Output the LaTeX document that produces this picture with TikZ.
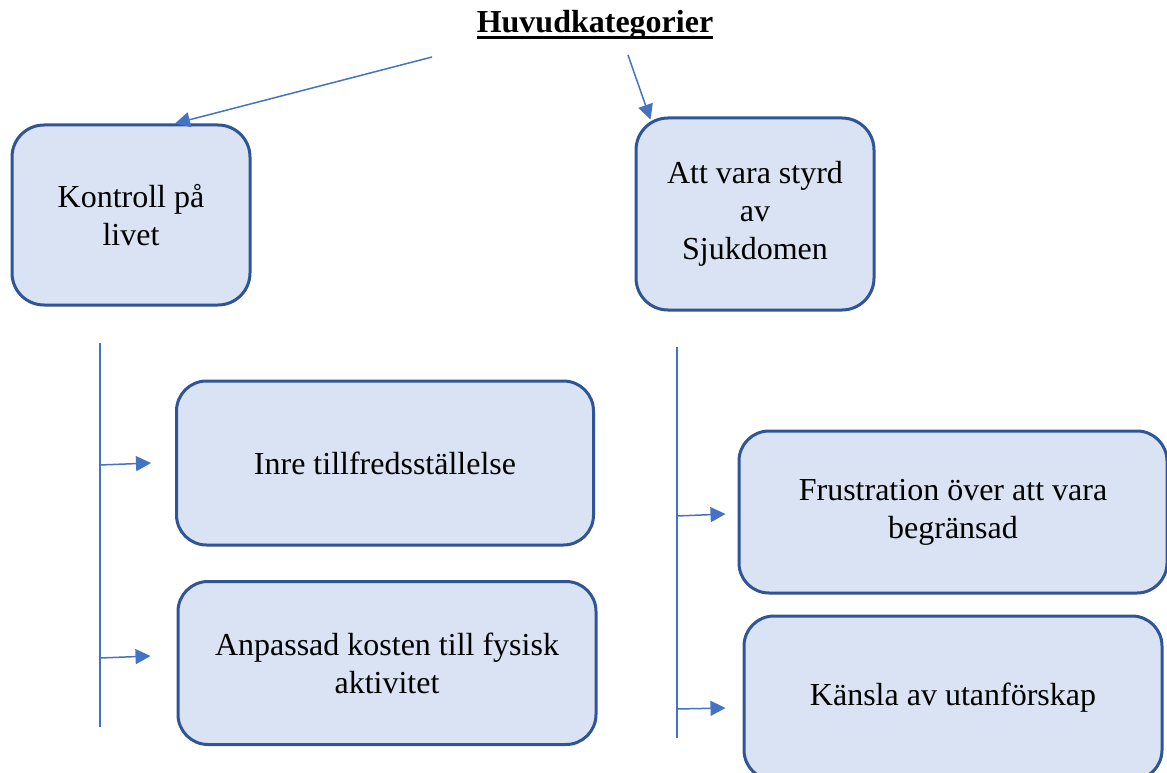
\documentclass[tikz,border=0pt]{standalone}
\usepackage{fontspec}
\setmainfont{Liberation Serif}
\usetikzlibrary{arrows.meta}
\definecolor{boxfill}{HTML}{DAE3F3}
\definecolor{boxline}{HTML}{2F5597}
\definecolor{arrline}{HTML}{4472C4}
\newcommand{\thickul}[1]{\setbox0\hbox{#1}\rlap{\rule[-6.5pt]{\wd0}{3pt}}\box0}
\begin{document}
\begin{tikzpicture}[x=1pt,y=-1pt,
        cat/.style={draw=boxline,fill=boxfill,line width=3pt,rounded corners=32pt,
            align=center,inner sep=0pt,font=\fontsize{32}{38}\selectfont},
        arr/.style={draw=arrline,line width=1.5pt,-{Triangle[length=15pt,width=15pt]}},
        vline/.style={draw=arrline,line width=1.5pt}]
\useasboundingbox (0,0) rectangle (1167,773);
\clip (0,0) rectangle (1167,773);

\node[anchor=base,font=\fontsize{32}{38}\selectfont\bfseries] (title) at (595,33) {\thickul{Huvudkategorier}};

\node[cat,minimum width=238pt,minimum height=180pt] (kontroll) at (131,215) {Kontroll på\\livet};
\node[cat,minimum width=238pt,minimum height=192pt] (styrd) at (755,214) {Att vara styrd\\av\\Sjukdomen};

\node[cat,minimum width=417pt,minimum height=164pt,rounded corners=30pt] (inre) at (385,463) {Inre tillfredsställelse};
\node[cat,minimum width=418pt,minimum height=163pt,rounded corners=30pt] (anpassad) at (387,663) {Anpassad kosten till fysisk\\aktivitet};
\node[cat,minimum width=428pt,minimum height=162pt,rounded corners=30pt] (frustration) at (953,512) {Frustration över att vara\\begränsad};
\node[cat,minimum width=418pt,minimum height=164pt,rounded corners=30pt] (kansla) at (953,698) {Känsla av utanförskap};

% from the heading
\coordinate (tleft) at (432,57);
\coordinate (tright) at (628,55);
\draw[arr] (tleft) -- ([xshift=44pt]kontroll.north);
\draw[arr] (tright) -- ([shift={(16,3)}]styrd.north west);

% left branch
\coordinate (ltop) at (100,343);
\coordinate (lbot) at (100,727);
\draw[vline] (ltop) -- (lbot);
\coordinate (la) at (100,465);
\coordinate (lb) at (100,658);
\draw[arr] (la) -- ([xshift=-24pt]inre.west);
\draw[arr] (lb) -- ([shift={(-26,-7)}]anpassad.west);

% right branch
\coordinate (rtop) at (677,347);
\coordinate (rbot) at (677,738);
\draw[vline] (rtop) -- (rbot);
\coordinate (ra) at (677,516);
\coordinate (rb) at (677,709);
\draw[arr] (ra) -- ([shift={(-12,2)}]frustration.west);
\draw[arr] (rb) -- ([shift={(-17,10)}]kansla.west);
\end{tikzpicture}
\end{document}
